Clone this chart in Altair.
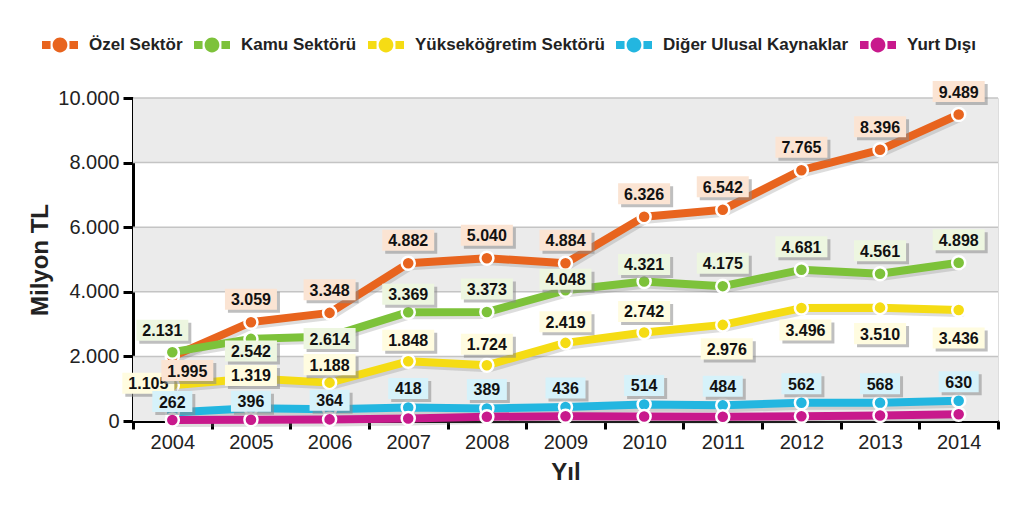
import altair as alt
import pandas as pd

years = list(range(2004, 2015))
series = ["Özel Sektör", "Kamu Sektörü", "Yükseköğretim Sektörü",
          "Diğer Ulusal Kaynaklar", "Yurt Dışı"]
ozel = [1995, 3059, 3348, 4882, 5040, 4884, 6326, 6542, 7765, 8396, 9489]
kamu = [2131, 2542, 2614, 3369, 3373, 4048, 4321, 4175, 4681, 4561, 4898]
yuksek = [1105, 1319, 1188, 1848, 1724, 2419, 2742, 2976, 3496, 3510, 3436]
diger = [262, 396, 364, 418, 389, 436, 514, 484, 562, 568, 630]
yurt = [30, 40, 50, 80, 130, 150, 140, 130, 150, 170, 210]
values = [ozel, kamu, yuksek, diger, yurt]
labeled = [True, True, True, True, False]

colors = ["#E8641E", "#7DC23A", "#F5DC14", "#23B6E0", "#C8198C"]
box_fills = ["#FBE4D3", "#EDF6E0", "#FFFCE0", "#D6F2FA", "#FFFFFF"]
y_ticks = [0, 2000, 4000, 6000, 8000, 10000]
band_lo = [0, 4000, 8000]
band_hi = [2000, 6000, 10000]

W, H = 865, 323
FONT = "Liberation Sans"

# label placement (pixel offsets of the label box from its point)
default_off = {0: (0, -23), 1: (0, -23), 2: (0, -21), 3: (0, -19)}
overrides = {
    (0, 2004): (15, 14),
    (1, 2004): (-10, -22), (1, 2005): (0, 12), (1, 2006): (0, 2),
    (1, 2007): (0, -18), (1, 2009): (0, -11), (1, 2010): (0, -17),
    (2, 2004): (-24, -2), (2, 2005): (0, -3), (2, 2006): (0, -18),
    (2, 2011): (4, 24), (2, 2012): (4, 22), (2, 2013): (0, 26), (2, 2014): (0, 28),
    (3, 2004): (0, -11), (3, 2005): (0, -7), (3, 2006): (0, -9),
}

rows = []
for si, (name, vals) in enumerate(zip(series, values)):
    for y, v in zip(years, vals):
        rows.append({"series": name, "year": y, "value": v, "order": si})
df = pd.DataFrame(rows)

lab_rows = []
for si, (name, vals) in enumerate(zip(series, values)):
    if not labeled[si]:
        continue
    for y, v in zip(years, vals):
        dx, dy = overrides.get((si, y), default_off[si])
        txt = f"{v:,}".replace(",", ".")
        kind = "long" if len(txt) > 3 else "short"
        lab_rows.append({"series": name, "year": y, "value": v, "text": txt,
                         "dx": dx, "dy": dy, "kind": kind, "fill": box_fills[si]})
labs = pd.DataFrame(lab_rows)
bands = pd.DataFrame({"lo": band_lo, "hi": band_hi})
grid = pd.DataFrame({"v": y_ticks[1:]})

box_shape = {
    "long": ("M-1,-0.404 L1,-0.404 L1,0.404 L-1,0.404 Z", 52 ** 2),
    "short": ("M-1,-0.525 L1,-0.525 L1,0.525 L-1,0.525 Z", 40 ** 2),
}

xscale = alt.Scale(type="band", paddingInner=0, paddingOuter=0)
yscale = alt.Scale(domain=[0, 10000], nice=False, zero=True)

X = alt.X("year:O", scale=xscale, axis=alt.Axis(
    tickBand="extent", labelAngle=0, domainWidth=3, domainColor="black",
    tickColor="black", tickWidth=3, tickSize=8, labelFontSize=20,
    labelFont=FONT, labelColor="#222", labelPadding=3, grid=False,
    title="Yıl", titleFont=FONT, titleFontSize=24, titleFontWeight="bold",
    titleColor="#222", titlePadding=8))
Y = alt.Y("value:Q", scale=yscale, axis=alt.Axis(
    values=y_ticks, grid=False, domainWidth=3, domainColor="black",
    tickColor="black", tickWidth=3, tickSize=10, labelFontSize=20,
    labelFont=FONT, labelColor="#222", labelPadding=4,
    labelExpr="replace(format(datum.value, ','), ',', '.')",
    title="Milyon TL", titleFont=FONT, titleFontSize=24,
    titleFontWeight="bold", titleColor="#222", titlePadding=5))

legend_path = ("M-2,-0.45 L-1.05,-0.45 L-1.05,0.45 L-2,0.45 Z "
               "M1.05,-0.45 L2,-0.45 L2,0.45 L1.05,0.45 Z "
               "M-0.82,0 A0.82,0.82 0 1,0 0.82,0 A0.82,0.82 0 1,0 -0.82,0 Z")
LEG = alt.Legend(
    orient="none", legendX=-91, legendY=-62,
    direction="horizontal", title=None, padding=0,
    symbolType=legend_path, symbolSize=324,
    symbolStrokeWidth=0, symbolOffset=9, labelOffset=20,
    columnPadding=11, labelFont=FONT, labelFontSize=17,
    labelFontWeight="bold", labelColor="#222",
    symbolOpacity=1, labelLimit=400)
COLOR = alt.Color("series:N", scale=alt.Scale(domain=series, range=colors),
                  legend=LEG)

bg = alt.Chart(bands).mark_rect(color="#EBEBEB").encode(
    x=alt.value(0), x2=alt.value("width"),
    y=alt.Y("lo:Q", scale=yscale), y2="hi:Q")
gridl = alt.Chart(grid).mark_rule(color="#C4C4C4", strokeWidth=1.5).encode(
    y=alt.Y("v:Q", scale=yscale))

line_shadow = alt.Chart(df).mark_line(
    strokeWidth=8, color="#777", opacity=0.25, xOffset=2, yOffset=3,
    strokeCap="round", strokeJoin="round").encode(
    x=X, y=Y, detail="series:N", order="year:O")
lines = alt.Chart(df).mark_line(
    strokeWidth=8, strokeCap="round", strokeJoin="round").encode(
    x=X, y=Y, color=COLOR, order="year:O")

points = alt.Chart(df).mark_point(
    filled=True, shape="circle", size=170, stroke="white", strokeWidth=2.5,
    opacity=1).encode(
    x=X, y=Y, color=COLOR, order=alt.Order("order:Q"))

layers = [bg, gridl, line_shadow, lines, points]
for (dx, dy, kind), g in labs.groupby(["dx", "dy", "kind"]):
    path, size = box_shape[kind]
    base = alt.Chart(g)
    layers.append(base.mark_point(
        shape=path, size=size, filled=True, color="#8a8a8a", opacity=0.55,
        strokeWidth=0, xOffset=int(dx) + 3, yOffset=int(dy) + 3).encode(x=X, y=Y))
    layers.append(base.mark_point(
        shape=path, size=size, filled=True, opacity=1, strokeWidth=0,
        xOffset=int(dx), yOffset=int(dy)).encode(
        x=X, y=Y, fill=alt.Fill("fill:N", scale=None)))
    layers.append(base.mark_text(
        font=FONT, fontSize=16, fontWeight="bold", color="#111",
        align="center", baseline="middle", xOffset=int(dx),
        yOffset=int(dy) + 1).encode(x=X, y=Y, text="text:N"))

chart = alt.layer(*layers).properties(
    width=W, height=H,
    autosize=alt.AutoSizeParams(type="none"),
    padding={"left": 125, "top": 90, "right": 18, "bottom": 83},
).configure_view(stroke=None).configure(background="white")

chart.save("out.html", embed_options={"renderer": "svg", "actions": False})
